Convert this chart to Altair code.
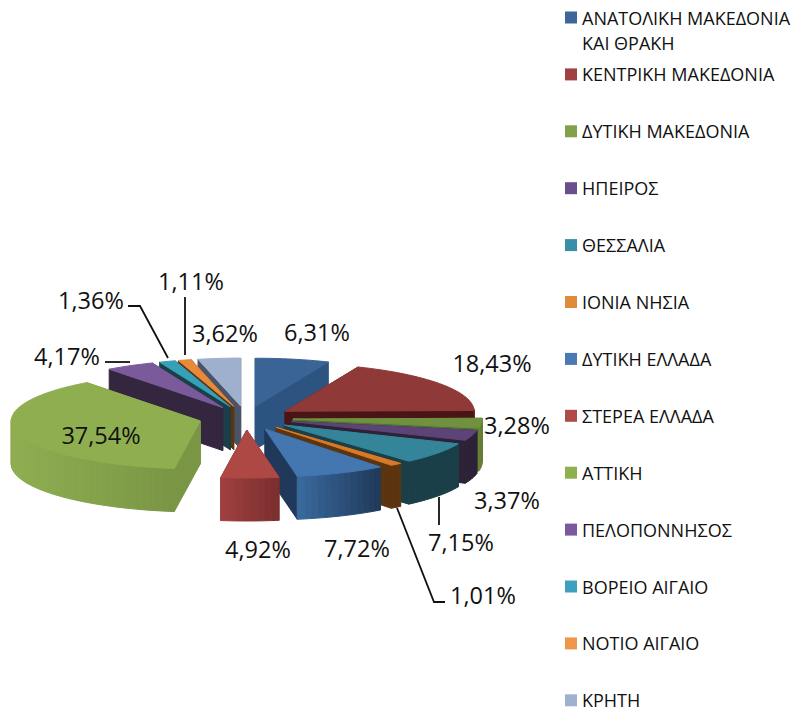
import math
import altair as alt

regions = ["ΑΝΑΤΟΛΙΚΗ ΜΑΚΕΔΟΝΙΑ\nΚΑΙ ΘΡΑΚΗ", "ΚΕΝΤΡΙΚΗ ΜΑΚΕΔΟΝΙΑ", "ΔΥΤΙΚΗ ΜΑΚΕΔΟΝΙΑ", "ΗΠΕΙΡΟΣ", "ΘΕΣΣΑΛΙΑ",
           "ΙΟΝΙΑ ΝΗΣΙΑ", "ΔΥΤΙΚΗ ΕΛΛΑΔΑ", "ΣΤΕΡΕΑ ΕΛΛΑΔΑ", "ΑΤΤΙΚΗ", "ΠΕΛΟΠΟΝΝΗΣΟΣ",
           "ΒΟΡΕΙΟ ΑΙΓΑΙΟ", "ΝΟΤΙΟ ΑΙΓΑΙΟ", "ΚΡΗΤΗ"]
shares = [6.31, 18.43, 3.28, 3.37, 7.15, 1.01, 7.72, 4.92, 37.54, 4.17, 1.36, 1.11, 3.62]
value_labels = ["6,31%", "18,43%", "3,28%", "3,37%", "7,15%", "1,01%", "7,72%", "4,92%", "37,54%",
                "4,17%", "1,36%", "1,11%", "3,62%"]
label_x = [317, 492, 517, 507, 461, 483, 357, 258, 101, 67, 91, 191, 225]
label_y = [334, 365, 427, 502, 544, 597, 550, 551, 437, 358, 302, 283, 335]
legend_colors = ["#3c6796", "#a04040", "#84a04a", "#6a4f8a", "#3a8fa8", "#e08a3c", "#4a7ab5", "#b04a48",
                 "#90b050", "#7a5a9c", "#3ea0bc", "#f0964a", "#a0b0d0"]
top_colors = ["#3a6496", "#8f3a38", "#6f9140", "#5d4478", "#35859a", "#d97a26", "#4477b0", "#ad4845",
              "#8fae50", "#7a5a9a", "#35a0b8", "#e88a3a", "#9fb0cf"]
cut_colors = ["#2d5380", "#4a1515", "#55702f", "#2e2238", "#1b3f48", "#5c3510", "#20395a", "#7a2e2e",
              "#7a9645", "#35263f", "#1a3f48", "#5c3510", "#4a5468"]
wall_left = ["#3a6496", "#6a2222", "#6a8538", "#2e2238", "#1b3f48", "#5c3510", "#3a6a9e", "#a04040",
             "#8fae50", "#35263f", "#1a3f48", "#5c3510", "#4a5468"]
wall_right = ["#2d5380", "#5a1a1a", "#5f7a33", "#2e2238", "#1b3f48", "#5c3510", "#20395a", "#7a2e2e",
              "#7a9645", "#35263f", "#1a3f48", "#5c3510", "#4a5468"]
leaders = [[(105, 362), (130, 362)],
           [(128, 306), (140, 306), (168, 358)],
           [(185, 297), (185, 355)],
           [(439, 497), (439, 525)],
           [(397, 508), (434, 602), (445, 602)]]

W, H = 788, 702
CX, CY, RX, RY = 246, 418, 189, 48
EXPLODE, DEPTH = 0.25, 43
LEGEND_TOP, LEGEND_STEP, LINE_STEP = 19.5, 56.9, 25


def mix(c1, c2, t):
    a = [int(c1[i:i + 2], 16) for i in (1, 3, 5)]
    b = [int(c2[i:i + 2], 16) for i in (1, 3, 5)]
    return "#%02x%02x%02x" % tuple(round(p + (q - p) * t) for p, q in zip(a, b))


def feature(ring, colour):
    return {"type": "Feature", "properties": {"fill": colour},
            "geometry": {"type": "Polygon", "coordinates": [[list(p) for p in ring] + [list(ring[0])]]}}


total = sum(shares)
slices = []
start = 0.0
for i, s in enumerate(shares):
    end = start + s / total * 2 * math.pi
    slices.append((i, start, end))
    start = end

features = []
for i, a0, a1 in sorted(slices, key=lambda t: -math.cos((t[1] + t[2]) / 2)):
    mid = (a0 + a1) / 2
    ox, oy = CX + EXPLODE * RX * math.sin(mid), CY - EXPLODE * RY * math.cos(mid)

    def pt(a, drop=0.0):
        return (ox + RX * math.sin(a), oy - RY * math.cos(a) + drop)

    apex, apex_low = (ox, oy), (ox, oy + DEPTH)
    features.append(feature([apex, pt(a0), pt(a0, DEPTH), apex_low], cut_colors[i]))
    features.append(feature([apex, pt(a1), pt(a1, DEPTH), apex_low], cut_colors[i]))
    n = max(2, int((a1 - a0) / math.radians(2)))
    angles = [a0 + (a1 - a0) * k / n for k in range(n + 1)]
    x_lo = min(pt(a)[0] for a in angles)
    x_hi = max(pt(a)[0] for a in angles)
    for p, q in zip(angles, angles[1:]):
        if math.cos((p + q) / 2) > 0.05:
            continue
        t = (pt((p + q) / 2)[0] - x_lo) / max(x_hi - x_lo, 1)
        c = mix(wall_left[i], wall_right[i], t)
        features.append(feature([pt(p), pt(q), pt(q, DEPTH), pt(p, DEPTH)], c))
    features.append(feature([apex] + [pt(a) for a in angles], top_colors[i]))

x_scale = alt.Scale(domain=[8, 8 + W], range=[0, W])
y_scale = alt.Scale(domain=[8, 8 + H], range=[0, H])
X = lambda f: alt.X(f, type="quantitative", scale=x_scale, axis=None)
Y = lambda f: alt.Y(f, type="quantitative", scale=y_scale, axis=None)

pie = alt.Chart(alt.InlineData(values={"type": "FeatureCollection", "features": features},
                               format=alt.DataFormat(property="features", type="json"))).mark_geoshape(
    strokeWidth=1
).encode(
    fill=alt.Fill("properties.fill:N", scale=None),
    stroke=alt.Stroke("properties.fill:N", scale=None),
).project(type="identity", scale=1, translate=[-8, -8])

leader_rows = [{"id": k, "o": j, "x": p[0], "y": p[1]} for k, line in enumerate(leaders) for j, p in enumerate(line)]
leader_layer = alt.Chart(alt.Data(values=leader_rows)).mark_line(color="#111111", strokeWidth=1.8).encode(
    x=X("x"), y=Y("y"), detail="id:N", order="o:Q")

value_rows = [{"t": t, "x": x, "y": y} for t, x, y in zip(value_labels, label_x, label_y)]
value_layer = alt.Chart(alt.Data(values=value_rows)).mark_text(
    font="Open Sans", fontSize=23.5, color="#111111", align="center", baseline="middle"
).encode(x=X("x"), y=Y("y"), text="t:N")

legend_rows = [{"c": c, "y": LEGEND_TOP + k * LEGEND_STEP - 2, "x": 571}
               for k, c in enumerate(legend_colors)]
legend_lines = [{"t": part, "y": LEGEND_TOP + k * LEGEND_STEP + j * LINE_STEP, "tx": 582}
                for k, r in enumerate(regions) for j, part in enumerate(r.split("\n"))]
legend_marks = alt.Chart(alt.Data(values=legend_rows)).mark_square(size=144, opacity=1, filled=True).encode(
    x=X("x"), y=Y("y"), color=alt.Color("c:N", scale=None))
legend_text = alt.Chart(alt.Data(values=legend_lines)).mark_text(
    font="Open Sans", fontSize=18, color="#111111", align="left", baseline="middle"
).encode(x=X("tx"), y=Y("y"), text="t:N")

chart = alt.layer(pie, leader_layer, value_layer, legend_marks, legend_text).properties(
    width=W, height=H, padding=0, autosize=alt.AutoSizeParams(type="none")
).configure_view(stroke=None)

chart.save("out.html", embed_options={"renderer": "svg", "actions": False})
